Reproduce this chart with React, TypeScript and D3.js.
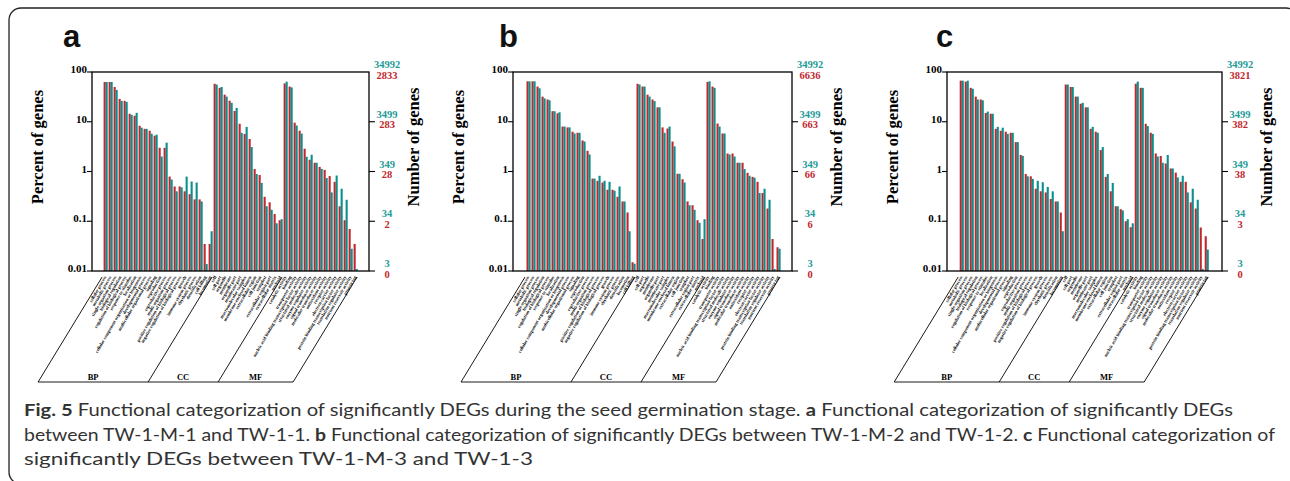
import React from "react";
import * as d3 from "d3";

const W = 1290;
const H = 481;
const red = "#c1272d";
const teal = "#0b8f8c";
const serif = "'Liberation Serif', 'Times New Roman', serif";
const sans = "'Liberation Sans', Arial, sans-serif";

// GO level-2 terms
const bpTerms = [
  "cellular process", "metabolic process", "single-organism process", "biological regulation",
  "regulation of biological process", "response to stimulus", "localization",
  "cellular component organization or biogenesis", "developmental process",
  "multicellular organismal process", "signaling", "reproduction", "reproductive process",
  "multi-organism process", "positive regulation of biological process",
  "negative regulation of biological process", "growth", "immune system process",
  "rhythmic process", "detoxification", "cell killing", "locomotion",
];
const ccTerms = [
  "cell", "cell part", "organelle", "membrane", "organelle part", "membrane part",
  "macromolecular complex", "membrane-enclosed lumen", "extracellular region", "cell junction",
  "symplast", "extracellular region part", "extracellular matrix", "nucleoid",
];
const mfTerms = [
  "catalytic activity", "binding", "transporter activity",
  "nucleic acid binding transcription factor activity", "structural molecule activity",
  "enzyme regulator activity", "signal transducer activity", "molecular transducer activity",
  "antioxidant activity", "receptor activity", "electron carrier activity",
  "protein binding transcription factor activity", "translation regulator activity",
  "nutrient reservoir activity", "protein tag",
];
const bpTermsB = [...bpTerms.slice(0, 20), bpTerms[21], bpTerms[20]];
const bpTermsC = [...bpTerms.slice(0, 20), bpTerms[21]];

// percent of genes: DEGs (red) and all genes (teal)
const aBpDeg = [63, 63, 50, 28.8, 26.3, 14.5, 13.2, 8.3, 7.2, 6.6, 5.25, 3.0, 3.0, 0.79, 0.5, 0.5, 0.4, 0.35, 0.275, 0.275, 0.035, 0.035];
const aBpAll = [63, 63, 43.7, 26.3, 25.1, 13.8, 15.1, 7.6, 7.2, 5.75, 5.5, 2.0, 3.8, 0.69, 0.4, 0.48, 0.79, 0.63, 0.6, 0.25, 0.0138, 0.063];
const aCcDeg = [58, 48, 35, 26.5, 16.5, 9.1, 5.7, 4.5, 1.12, 0.85, 0.31, 0.24, 0.14, 0.105];
const aCcAll = [56, 50, 32, 24, 19, 6.0, 7.9, 3.1, 0.89, 0.59, 0.2, 0.17, 0.091, 0.11];
const aMfDeg = [59, 51, 9.6, 6.6, 2.87, 1.72, 1.5, 1.24, 1.08, 0.81, 0.62, 0.2, 0.105, 0.07, 0.035];
const aMfAll = [64, 49, 8.4, 5.8, 1.98, 2.17, 1.5, 1.13, 0.74, 0.38, 0.83, 0.45, 0.27, 0.028, 0.011];

const bBpDeg = [65, 65, 51, 32, 28, 16.3, 14.8, 8, 7.7, 6.3, 6.0, 4.2, 2.6, 0.72, 0.65, 0.6, 0.43, 0.43, 0.31, 0.25, 0.15, 0.015];
const bBpAll = [65, 65, 47, 29.5, 27, 16.3, 15.5, 8, 7.7, 5.8, 6.0, 4.0, 2.2, 0.72, 0.82, 0.65, 0.62, 0.41, 0.5, 0.25, 0.063, 0.014];
const bCcDeg = [58, 51, 35, 28, 19.5, 7.7, 7.3, 4.0, 0.9, 0.7, 0.25, 0.21, 0.105, 0.044];
const bCcAll = [56, 51, 32, 26, 19.5, 6.0, 8.0, 3.2, 0.9, 0.6, 0.21, 0.17, 0.093, 0.11];
const bMfDeg = [63, 51, 9.2, 5.8, 2.3, 2.3, 1.5, 1.5, 0.94, 0.78, 0.62, 0.37, 0.18, 0.044, 0.03];
const bMfAll = [65, 48, 8.0, 5.8, 2.2, 2.0, 1.5, 1.12, 0.82, 0.75, 0.37, 0.45, 0.27, 0.011, 0.028];

const cBpDeg = [67, 64, 48, 32, 28, 15, 14.5, 7.2, 6.6, 6.3, 6.0, 3.9, 2.15, 0.89, 0.8, 0.45, 0.4, 0.38, 0.28, 0.25, 0.15];
const cBpAll = [67, 67, 46, 28, 27, 16, 14.5, 7.9, 7.6, 5.7, 6.0, 3.9, 2.05, 0.8, 0.71, 0.65, 0.61, 0.49, 0.4, 0.25, 0.063];
const cCcDeg = [56, 50, 32, 23, 19.5, 7.2, 6.3, 2.7, 0.78, 0.4, 0.2, 0.175, 0.1, 0.076];
const cCcAll = [56, 50, 32, 24, 19.5, 7.9, 6.0, 3.1, 0.89, 0.59, 0.2, 0.165, 0.11, 0.091];
const cMfDeg = [58, 48, 9.1, 6.0, 2.3, 2.05, 1.45, 1.15, 0.95, 0.62, 0.62, 0.24, 0.18, 0.075, 0.05];
const cMfAll = [64, 48, 8.2, 5.7, 2.0, 1.5, 2.15, 1.15, 0.76, 0.82, 0.38, 0.45, 0.27, 0.011, 0.027];

const decades = [100, 10, 1, 0.1, 0.01];
const decadeLabels = ["100", "10", "1", "0.1", "0.01"];
const allGeneTicks = ["34992", "3499", "349", "34", "3"];
const aDegTicks = ["2833", "283", "28", "2", "0"];
const bDegTicks = ["6636", "663", "66", "6", "0"];
const cDegTicks = ["3821", "382", "38", "3", "0"];

const panels = [
  {
    id: "a", left: 92, right: 369, padL: 11.6, letterX: 63,
    bp: bpTerms, deg: [aBpDeg, aCcDeg, aMfDeg], all: [aBpAll, aCcAll, aMfAll], degTicks: aDegTicks,
  },
  {
    id: "b", left: 513, right: 792, padL: 13.5, letterX: 499,
    bp: bpTermsB, deg: [bBpDeg, bCcDeg, bMfDeg], all: [bBpAll, bCcAll, bMfAll], degTicks: bDegTicks,
  },
  {
    id: "c", left: 947, right: 1222, padL: 12.7, letterX: 936,
    bp: bpTermsC, deg: [cBpDeg, cCcDeg, cMfDeg], all: [cBpAll, cCcAll, cMfAll], degTicks: cDegTicks,
  },
];

const top = 72;
const bottom = 271;
const step = 5;

function Panel({ p }: { p: any }) {
  const terms = [...p.bp, ...ccTerms, ...mfTerms];
  const deg: number[] = [].concat(...p.deg);
  const all: number[] = [].concat(...p.all);
  const n = terms.length;
  const y = d3.scaleLog().domain([0.01, 100]).range([bottom, top]);
  const x0 = p.left + p.padL;
  const x = d3.scaleBand<number>().domain(d3.range(n)).range([x0, x0 + n * step]).padding(0);
  const bw = 2.1;

  const bounds = [0, p.bp.length, p.bp.length + ccTerms.length, n].map((i) =>
    (i < n ? (x(i) as number) : (x(n - 1) as number) + step) - 1.5
  );
  const slantTop = 277;
  const slantBot = 382;
  const dx = 64;
  const groupNames = ["BP", "CC", "MF"];
  const midY = 147;

  return (
    <g>
      <text x={p.letterX} y={47} fontFamily={sans} fontWeight="bold" fontSize={31} fill="#111">{p.id}</text>

      {deg.map((v, i) =>
        v > 0.01 ? (
          <rect key={"r" + i} x={x(i)} y={y(v)} width={bw} height={y(0.01) - y(v)} fill={red} />
        ) : null
      )}
      {all.map((v, i) =>
        v > 0.01 ? (
          <rect key={"t" + i} x={(x(i) as number) + 2} y={y(v)} width={bw} height={y(0.01) - y(v)} fill={teal} />
        ) : null
      )}

      <rect x={p.left} y={top} width={p.right - p.left} height={bottom - top} fill="none" stroke="#000" strokeWidth={1.3} />

      {decades.map((d, i) => (
        <g key={"l" + i}>
          <line x1={p.left - 5} x2={p.left} y1={y(d)} y2={y(d)} stroke="#000" strokeWidth={1.1} />
          <text x={p.left - 5} y={y(d) + 1} textAnchor="end" fontFamily={serif} fontWeight="bold" fontSize={11} fill="#000">
            {decadeLabels[i]}
          </text>
        </g>
      ))}
      {decades.map((d, i) => (
        <g key={"rt" + i}>
          {i > 0 && <line x1={p.right} x2={p.right + 6} y1={y(d)} y2={y(d)} stroke="#000" strokeWidth={1.1} />}
          <text x={p.right + 18} y={y(d) - 4} textAnchor="middle" fontFamily={serif} fontWeight="bold" fontSize={10.5} fill="#1f9b98">
            {allGeneTicks[i]}
          </text>
          <text x={p.right + 18} y={y(d) + 6.5} textAnchor="middle" fontFamily={serif} fontWeight="bold" fontSize={10.5} fill={red}>
            {p.degTicks[i]}
          </text>
        </g>
      ))}

      <text transform={`translate(${p.left - 55},${midY}) rotate(-90)`} textAnchor="middle" dy="0.35em"
        fontFamily={serif} fontWeight="bold" fontSize={16.5} fill="#000">Percent of genes</text>
      <text transform={`translate(${p.right + 44},${midY}) rotate(-90)`} textAnchor="middle" dy="0.35em"
        fontFamily={serif} fontWeight="bold" fontSize={16.5} fill="#000">Number of genes</text>

      {terms.map((t, i) => (
        <text key={"c" + i} transform={`translate(${(x(i) as number) + 3},${slantTop}) rotate(-60)`}
          textAnchor="end" fontFamily={serif} fontWeight="bold" fontSize={4.5} fill="#000">{t}</text>
      ))}

      {bounds.map((b, i) => (
        <line key={"s" + i} x1={b} y1={slantTop} x2={b - dx} y2={slantBot} stroke="#000" strokeWidth={0.9} />
      ))}
      <line x1={bounds[0] - dx} x2={bounds[3] - dx} y1={slantBot} y2={slantBot} stroke="#000" strokeWidth={0.9} />
      {groupNames.map((g, i) => (
        <text key={g} x={(bounds[i] + bounds[i + 1]) / 2 - dx} y={slantBot - 2.5} textAnchor="middle"
          fontFamily={serif} fontWeight="bold" fontSize={8.5} fill="#000">{g}</text>
      ))}
    </g>
  );
}

const captionFont = "Lato, 'Open Sans', sans-serif";

export default function App() {
  return (
    <svg width={W} height={H} style={{ position: "absolute", left: 0, top: 0, background: "#fff" }}>
      <rect x={9} y={8} width={1289} height={476} rx={12} fill="none" stroke="#222" strokeWidth={1.3} />
      {panels.map((p) => (
        <Panel key={p.id} p={p} />
      ))}
      <g fontFamily={captionFont} fontSize={17.5} fill="#333">
        <text x={24} y={416} textLength={1209} lengthAdjust="spacingAndGlyphs">
          <tspan fontWeight="bold">{"Fig. 5"}</tspan>
          {" Functional categorization of significantly DEGs during the seed germination stage. "}
          <tspan fontWeight="bold">a</tspan>
          {" Functional categorization of significantly DEGs"}
        </text>
        <text x={24} y={440.5} textLength={1251} lengthAdjust="spacingAndGlyphs">
          {"between TW-1-M-1 and TW-1-1. "}
          <tspan fontWeight="bold">b</tspan>
          {" Functional categorization of significantly DEGs between TW-1-M-2 and TW-1-2. "}
          <tspan fontWeight="bold">c</tspan>
          {" Functional categorization of"}
        </text>
        <text x={24} y={465} textLength={509} lengthAdjust="spacingAndGlyphs">
          {"significantly DEGs between TW-1-M-3 and TW-1-3"}
        </text>
      </g>
    </svg>
  );
}
